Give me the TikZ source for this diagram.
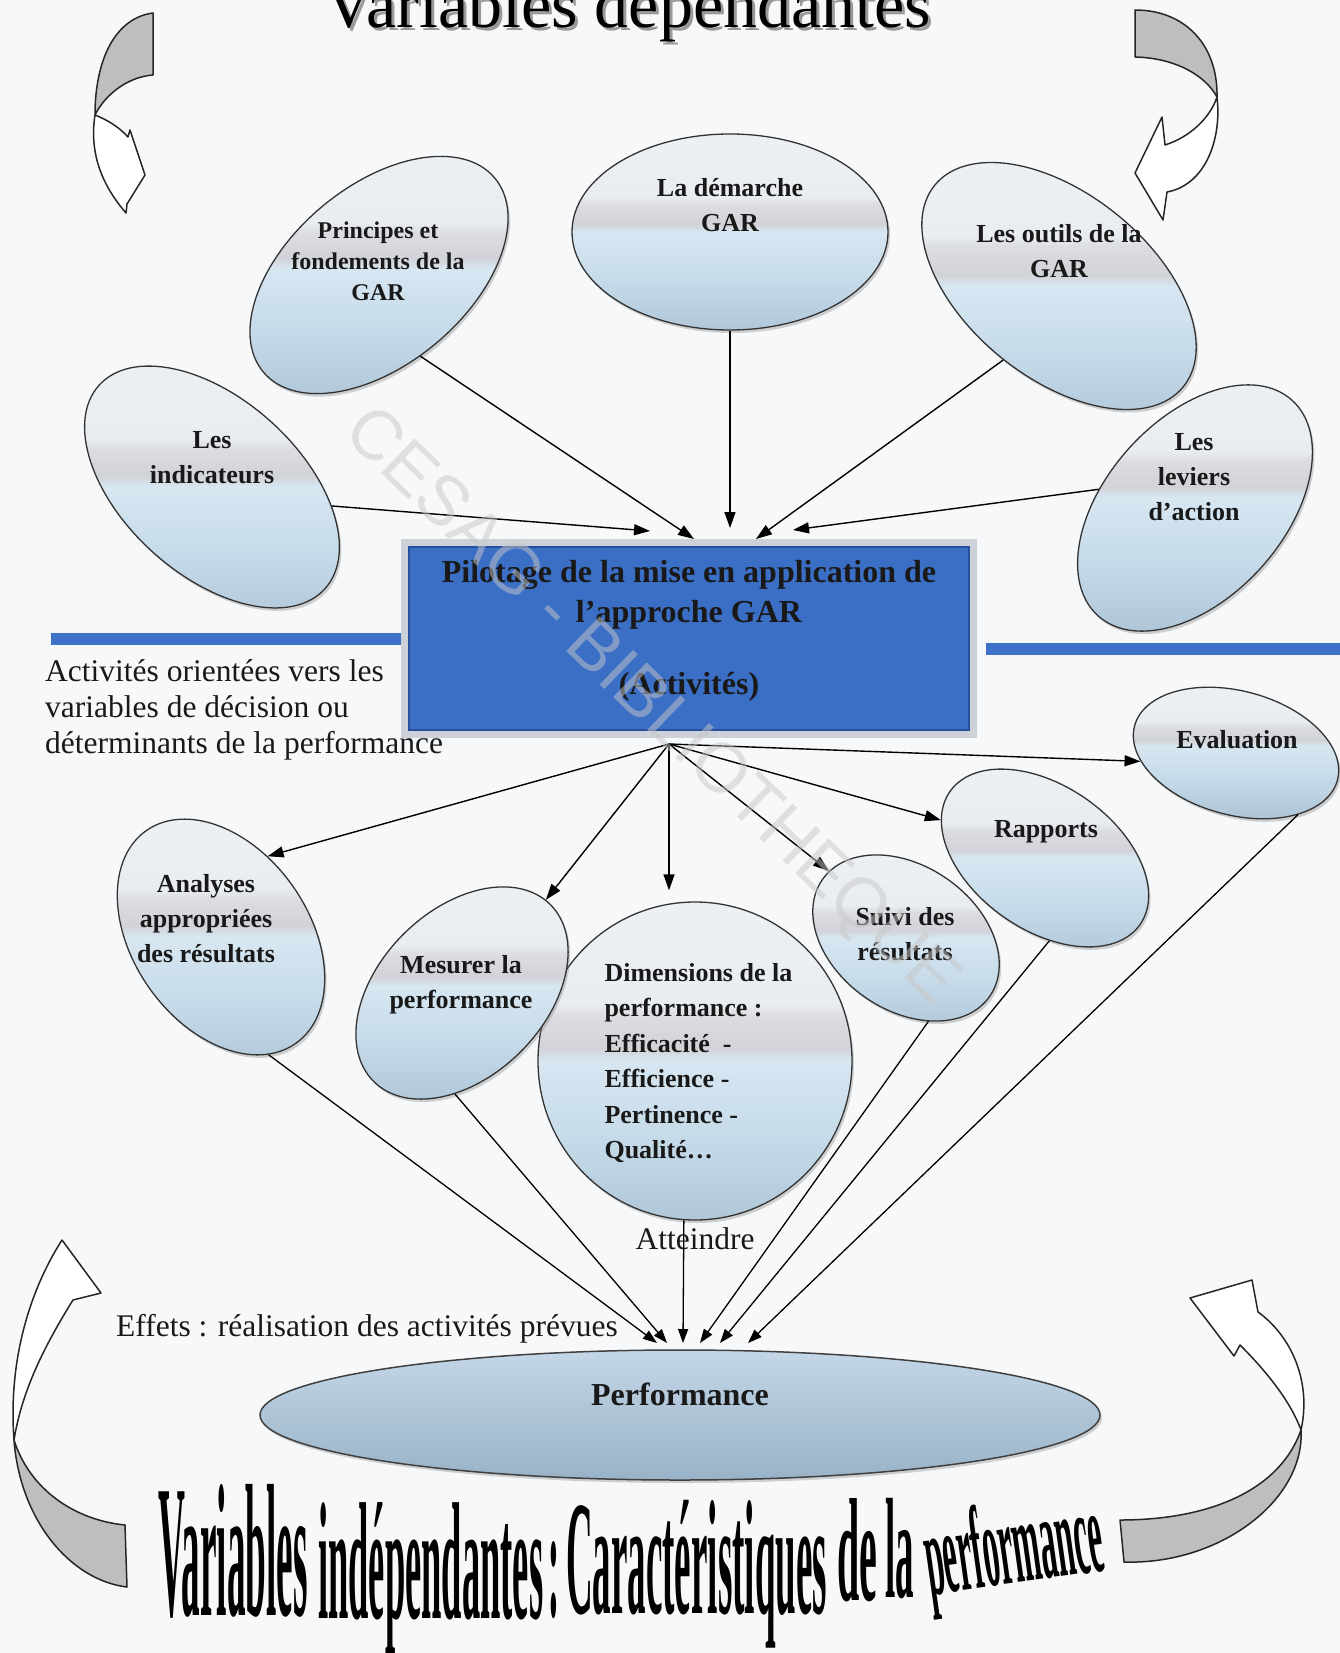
\documentclass[tikz,border=0pt]{standalone}
\usepackage{fontspec}
\setmainfont{Liberation Serif}
\newfontfamily\wmfont{Liberation Sans}
\usetikzlibrary{shapes.geometric,arrows.meta,shadows}
\definecolor{bgc}{HTML}{F7F8FA}
\definecolor{sh0}{HTML}{7F99B0}
\definecolor{sh1}{HTML}{9DB6CA}
\definecolor{sh2}{HTML}{C3D8E7}
\definecolor{sh3}{HTML}{D7E7F2}
\definecolor{shg}{HTML}{D2D3D8}
\definecolor{shg2}{HTML}{DCDDE2}
\definecolor{sh4}{HTML}{E9EDF1}
\definecolor{sh5}{HTML}{F3F4F6}
\definecolor{boxblue}{HTML}{3B6FC5}
\definecolor{boxedge}{HTML}{24509E}
\definecolor{boxframe}{HTML}{CDD1D8}
\definecolor{lineblue}{HTML}{3E71C8}
\definecolor{ribgray}{HTML}{BEBEC0}
\definecolor{pftop}{HTML}{C4D7E7}
\definecolor{pfmid}{HTML}{B6CCDE}
\definecolor{pfbot}{HTML}{98B2C7}
\pgfdeclareverticalshading{ellsh}{100bp}{color(0bp)=(sh0); color(14bp)=(sh1); color(36bp)=(sh2); color(50bp)=(sh3); color(52bp)=(shg); color(57bp)=(shg2); color(59bp)=(sh4); color(100bp)=(sh5)}
\begin{document}
\begin{tikzpicture}[x=1pt,y=-1pt,
  ell/.style={ellipse, draw=black!80, line width=1.3pt, shading=ellsh, inner sep=0pt,
    drop shadow={shadow xshift=2pt,shadow yshift=-3pt,opacity=.35}},
  etext/.style={font=\bfseries\fontsize{26}{35}\selectfont, align=center, text=black!90},
  conn/.style={line width=1.4pt, -{Triangle[length=16pt,width=11pt]}},
  conn2/.style={line width=1.3pt, -{Triangle[length=14pt,width=10pt]}},
  rib/.style={draw=black!85, line width=1.5pt, line join=round},
  plain/.style={font=\fontsize{31.5}{36.5}\selectfont, inner sep=0pt, text=black!90},
  bt/.style={font=\bfseries\fontsize{100}{100}\selectfont, anchor=base west, inner sep=0pt},
  boxtxt/.style={font=\bfseries\fontsize{32}{40}\selectfont, align=center, text=black!90}]
\useasboundingbox (0,0) rectangle (1340,1653);
\fill[bgc] (0,0) rectangle (1340,1653);

% top title
\node[font=\fontsize{68}{68}\selectfont, anchor=base, text=black!40] (ttls) at (631,31) {Variables dépendantes};
\node[font=\fontsize{68}{68}\selectfont, anchor=base] (ttl) at (628,28) {Variables dépendantes};

% curved ribbon arrows
\filldraw[rib, fill=ribgray] (153,13) .. controls (115,18) and (95,60) .. (95,115) .. controls (105,95) and (127,77) .. (153,75) -- cycle;
\filldraw[rib, fill=white] (95,115) .. controls (108,120) and (120,128) .. (128,137) -- (130,130) -- (145,175) -- (127,204) -- (126,213) .. controls (108,192) and (88,160) .. (95,115) -- cycle;
\filldraw[rib, fill=ribgray] (1135,10) .. controls (1185,10) and (1218,45) .. (1217,97) .. controls (1205,75) and (1175,58) .. (1135,57) -- cycle;
\filldraw[rib, fill=white] (1217,97) .. controls (1222,140) and (1205,185) .. (1167,192) -- (1163,220) -- (1135,173) -- (1162,117) -- (1165,145) .. controls (1190,137) and (1210,118) .. (1217,97) -- cycle;
\filldraw[rib, fill=ribgray] (14,1440) .. controls (20,1520) and (70,1580) .. (127,1587) -- (125,1525) .. controls (75,1520) and (30,1490) .. (14,1440) -- cycle;
\filldraw[rib, fill=white] (14,1440) .. controls (8,1360) and (30,1290) .. (62,1240) -- (101,1293) -- (73,1300) .. controls (45,1345) and (22,1390) .. (14,1440) -- cycle;
\filldraw[rib, fill=ribgray] (1301,1430) .. controls (1305,1500) and (1220,1565) .. (1124,1562) -- (1120,1520) .. controls (1210,1520) and (1280,1490) .. (1301,1430) -- cycle;
\filldraw[rib, fill=white] (1301,1430) .. controls (1312,1380) and (1290,1335) .. (1258,1312) -- (1252,1280) -- (1190,1298) -- (1234,1356) -- (1240,1345) .. controls (1265,1370) and (1290,1400) .. (1301,1430) -- cycle;

% upper ellipses
\node[ell, minimum width=304, minimum height=176, rotate=-42] (ind) at (212,487) {};
\node[ell, minimum width=302, minimum height=178, rotate=40] (prin) at (379,275) {};
\node[ell, minimum width=316, minimum height=196] (dem) at (730,232) {};
\node[ell, minimum width=320, minimum height=184, rotate=-39] (out) at (1059,286) {};
\node[ell, minimum width=290, minimum height=178, rotate=48] (lev) at (1195,508) {};

% blue lines and central box
\fill[lineblue] (51,633) rectangle (404,645);
\fill[lineblue] (986,643) rectangle (1340,655);
\node[fill=boxblue, draw=boxedge, line width=1.2pt, minimum width=560, minimum height=183, inner sep=0pt,
  preaction={draw=boxframe, line width=16pt}] (box) at (689,638.5) {};
\node[boxtxt] (bt1) at (689,595) {Pilotage de la mise en application de\\l’approche GAR};
\node[boxtxt] (bt2) at (689,687) {(Activités)};

% left text
\node[plain, anchor=base west] (l1) at (45,681) {Activités orientées vers les};
\node[plain, anchor=base west] (l2) at (45,717) {variables de décision ou};
\node[plain, anchor=base west] (l3) at (45,753) {déterminants de la performance};

% lower ellipses
\node[ell, minimum width=260, minimum height=176, rotate=-55] (ana) at (221,937) {};
\node[ell, minimum width=314, minimum height=318] (dim) at (695,1061) {};
\node[ell, minimum width=250, minimum height=166, rotate=45] (mes) at (462,993) {};
\node[ell, minimum width=204, minimum height=144, rotate=-35] (sui) at (906,938) {};
\node[ell, minimum width=232, minimum height=144, rotate=-35] (rap) at (1045,858) {};
\node[ell, minimum width=210, minimum height=124, rotate=-15] (eva) at (1236,753) {};
\node[ellipse, draw=black!75, line width=1.5pt, minimum width=840, minimum height=130, inner sep=0pt,
  top color=pftop, middle color=pfmid, bottom color=pfbot,
  drop shadow={shadow xshift=2pt,shadow yshift=-3pt,opacity=.35}] (perf) at (680,1415) {};

% ellipse texts
\node[etext, font=\bfseries\fontsize{24}{31}\selectfont] (tprin) at (378,261) {Principes et\\fondements de la\\GAR};
\node[etext] (tdem) at (730,205) {La démarche\\GAR};
\node[etext] (tout) at (1059,251) {Les outils de la\\GAR};
\node[etext] (tind) at (212,458) {Les\\indicateurs};
\node[etext] (tlev) at (1194,477) {Les\\leviers\\d’action};
\node[etext] (tana) at (206,919) {Analyses\\appropriées\\des résultats};
\node[etext] (tmes) at (461,985) {Mesurer la\\performance};
\node[etext, font=\bfseries\fontsize{26}{35.4}\selectfont, align=left, anchor=west] (tdim) at (601,1063)
  {Dimensions de la\\performance :\\Efficacité\ \ -\\Efficience -\\Pertinence -\\Qualité…};
\node[etext] (tsui) at (905,934) {Suivi des\\résultats};
\node[etext] (trap) at (1046,832) {Rapports};
\node[etext] (teva) at (1237,740) {Evaluation};
\node[etext, font=\bfseries\fontsize{32}{38}\selectfont] (tperf) at (680,1394) {Performance};

% plain labels
\node[plain, anchor=base] (att) at (695,1249) {Atteindre};
\node[plain, anchor=base west] (eff) at (116,1336) {Effets : réalisation des activités prévues};

% arrow coordinates
\coordinate (a1) at (650,531);
\coordinate (a2) at (694,539);
\coordinate (a3) at (730,528);
\coordinate (a4) at (756,539);
\coordinate (a5) at (793,530);
\coordinate (o) at (669,744);
\coordinate (p1) at (657,1343);
\coordinate (p2) at (667,1343);
\coordinate (p3) at (683,1343);
\coordinate (p4) at (700,1343);
\coordinate (p5) at (720,1343);
\coordinate (p6) at (748,1343);

% upper connectors
\draw[conn] (ind.33.6) -- (a1);
\draw[conn] (prin.-103.4) -- (a2);
\draw[conn] (dem.south) -- (a3);
\draw[conn] (out.-88) -- (a4);
\draw[conn] (lev.121.6) -- (a5);

% lower connectors
\draw[conn] (o) -- (ana.115.6);
\draw[conn] (o) -- (mes.3);
\draw[conn, shorten >=11pt] (o) -- (o |- dim.north);
\draw[conn] (o) -- (sui.174.3);
\draw[conn] (o) -- (rap.-165.6);
\draw[conn] (o) -- (eva.-160);

% to performance
\draw[conn2] (ana.-13.6) -- (p1);
\draw[conn2] (mes.-139) -- (p2);
\draw[conn2] (dim.-94) -- (p3);
\draw[conn2] (sui.-40.5) -- (p4);
\draw[conn2] (rap.-52.2) -- (p5);
\draw[conn2] (eva.-30.5) -- (p6);

% bottom title
\node[bt, xscale=.372, yscale=1.89] (bw1) at (158,1615) {Variables};
\node[bt, xscale=.365, yscale=1.67] (bw2) at (318,1618) {indépendantes};
\node[bt, xscale=.33, yscale=1.6] (bw3) at (548,1616) {:};
\node[bt, xscale=.37, yscale=1.63] (bw4) at (566,1613) {Caractéristiques};
\node[bt, xscale=.40, yscale=1.47] (bw5) at (837,1600) {de};
\node[bt, xscale=.37, yscale=1.43] (bw6) at (885,1597) {la};
\node[bt, rotate=8, xscale=.325, yscale=1.18] (bw7) at (930,1595) {performance};

% watermark
\node[font=\wmfont\fontsize{70}{70}\selectfont, text=black!22, opacity=.5, rotate=-44] (wm) at (650,708) {CESAG - BIBLIOTHEQUE};
\end{tikzpicture}
\end{document}
